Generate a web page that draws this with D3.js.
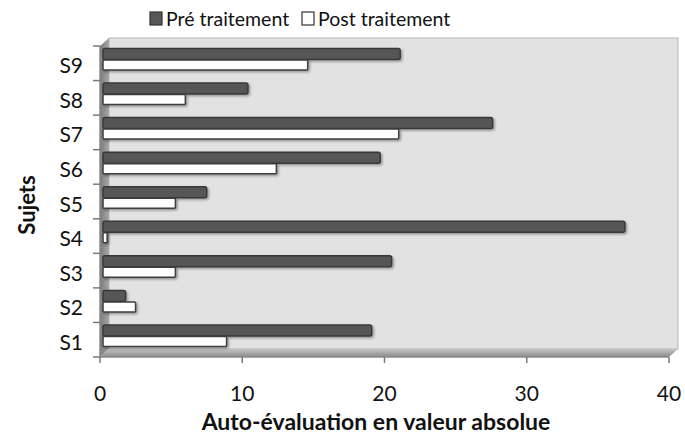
<!DOCTYPE html>
<html>
  <head>
    <meta charset='utf-8'>
    <title></title>
    <script src='https://d3js.org/d3.v7.min.js'></script>
    <style>
      body { margin: 0; background: #fff; }
      svg { display: block; font-family: Lato, 'Open Sans', sans-serif; }
      .tick-label { font-size: 21px; fill: #111; }
      .cat-label { font-size: 21px; fill: #111; }
      .axis-title { font-size: 23px; font-weight: bold; fill: #111; }
      .legend text { font-size: 19.5px; fill: #111; }
    </style>
  </head>
  <body>
  <script type='text/javascript'>

    // data
    var subjects = ['S9', 'S8', 'S7', 'S6', 'S5', 'S4', 'S3', 'S2', 'S1'];
    var pre  = [21.1, 10.4, 27.6, 19.7, 7.5, 36.9, 20.5, 1.8, 19.1];
    var post = [14.6, 6.0, 21.0, 12.4, 5.3, 0.5, 5.3, 2.5, 8.9];
    var xTicks = [0, 10, 20, 30, 40];
    var seriesNames = ['Pré traitement', 'Post traitement'];

    var width = 685, height = 436;
    var depth = {x: 9, y: -8};

    var x = d3.scaleLinear().domain([0, 40]).range([100, 669]);
    var y = d3.scaleBand().domain(subjects).range([46, 357]);

    var svg = d3.select('body').append('svg')
      .attr('width', width)
      .attr('height', height);

    var defs = svg.append('defs');
    var sideGrad = defs.append('linearGradient').attr('id', 'side')
      .attr('x1', 0).attr('x2', 1).attr('y1', 0).attr('y2', 0);
    sideGrad.append('stop').attr('offset', '0%').attr('stop-color', '#7a7a7a');
    sideGrad.append('stop').attr('offset', '100%').attr('stop-color', '#a8a8a8');
    var floorGrad = defs.append('linearGradient').attr('id', 'floor')
      .attr('x1', 0).attr('x2', 0).attr('y1', 0).attr('y2', 1);
    floorGrad.append('stop').attr('offset', '0%').attr('stop-color', '#c4c4c4');
    floorGrad.append('stop').attr('offset', '100%').attr('stop-color', '#8c8c8c');
    var shadow = defs.append('filter').attr('id', 'shadow')
      .attr('x', '-5%').attr('y', '-30%').attr('width', '110%').attr('height', '170%');
    shadow.append('feDropShadow').attr('dx', 1.5).attr('dy', 1.5)
      .attr('stdDeviation', 1).attr('flood-color', '#000').attr('flood-opacity', 0.35);

    var x0 = x(0), x1 = x(40);
    var yTop = y.range()[0], yBot = y.range()[1];

    // back wall
    svg.append('rect')
      .attr('x', x0 + depth.x).attr('y', yTop + depth.y)
      .attr('width', x1 - x0).attr('height', yBot - yTop)
      .attr('fill', '#e2e2e2').attr('stroke', '#b5b5b5');

    // left side wall
    svg.append('polygon')
      .attr('points', [[x0, yTop], [x0 + depth.x, yTop + depth.y],
                       [x0 + depth.x, yBot + depth.y], [x0, yBot]].join(' '))
      .attr('fill', 'url(#side)');

    // floor
    svg.append('polygon')
      .attr('points', [[x0, yBot], [x0 + depth.x, yBot + depth.y],
                       [x1 + depth.x, yBot + depth.y], [x1, yBot]].join(' '))
      .attr('fill', 'url(#floor)');

    svg.append('line')
      .attr('x1', x0).attr('x2', x1).attr('y1', yBot).attr('y2', yBot)
      .attr('stroke', '#8a8a8a').attr('stroke-width', 1.5);
    svg.append('line')
      .attr('x1', x0).attr('x2', x0).attr('y1', yTop).attr('y2', yBot)
      .attr('stroke', '#8a8a8a').attr('stroke-width', 1.5);

    // x ticks
    svg.selectAll('.xtick').data(xTicks).enter().append('line')
      .attr('x1', function(d) { return x(d); }).attr('x2', function(d) { return x(d); })
      .attr('y1', yBot).attr('y2', yBot + 6)
      .attr('stroke', '#7a7a7a').attr('stroke-width', 1.5);
    svg.selectAll('.xlab').data(xTicks).enter().append('text')
      .attr('class', 'tick-label')
      .attr('x', function(d) { return x(d); })
      .attr('y', 401)
      .attr('text-anchor', 'middle')
      .text(function(d) { return d; });

    // y ticks at band boundaries
    var bounds = subjects.map(function(s) { return y(s); }).concat([yBot]);
    svg.selectAll('.ytick').data(bounds).enter().append('line')
      .attr('x1', x0 - 7).attr('x2', x0)
      .attr('y1', function(d) { return d; }).attr('y2', function(d) { return d; })
      .attr('stroke', '#7a7a7a').attr('stroke-width', 1.5);
    svg.selectAll('.ylab').data(subjects).enter().append('text')
      .attr('class', 'cat-label')
      .attr('x', 83)
      .attr('y', function(d) { return y(d) + y.bandwidth() / 2 + 10; })
      .attr('text-anchor', 'end')
      .text(function(d) { return d; });

    // bars
    var barH = 11;
    var g = svg.append('g').attr('filter', 'url(#shadow)');
    g.selectAll('.pre').data(subjects).enter().append('rect')
      .attr('x', x(0) + 3)
      .attr('y', function(d) { return y(d) + 2.5; })
      .attr('width', function(d, i) { return x(pre[i]) - x(0) - 3; })
      .attr('height', barH)
      .attr('rx', 2)
      .attr('fill', '#575757').attr('stroke', '#383838').attr('stroke-width', 1.5);
    g.selectAll('.post').data(subjects).enter().append('rect')
      .attr('x', x(0) + 3)
      .attr('y', function(d) { return y(d) + 2.5 + barH + 0.5; })
      .attr('width', function(d, i) { return Math.max(x(post[i]) - x(0) - 3, 2); })
      .attr('height', barH - 1)
      .attr('rx', 1)
      .attr('fill', '#fff').attr('stroke', '#3c3c3c').attr('stroke-width', 1.5);

    // axis titles
    svg.append('text')
      .attr('class', 'axis-title')
      .attr('x', 376).attr('y', 430)
      .attr('text-anchor', 'middle')
      .text('Auto-évaluation en valeur absolue');
    svg.append('text')
      .attr('class', 'axis-title')
      .attr('transform', 'translate(35,205) rotate(-90)')
      .style('font-size', '22px')
      .attr('text-anchor', 'middle')
      .text('Sujets');

    // legend
    var legend = svg.append('g').attr('class', 'legend');
    var legX = [150, 302];
    var legFill = ['#575757', '#fff'];
    legend.selectAll('rect').data(seriesNames).enter().append('rect')
      .attr('x', function(d, i) { return legX[i]; })
      .attr('y', 12).attr('width', 12).attr('height', 13)
      .attr('fill', function(d, i) { return legFill[i]; })
      .attr('stroke', '#333').attr('stroke-width', 1.2);
    legend.selectAll('text').data(seriesNames).enter().append('text')
      .attr('x', function(d, i) { return legX[i] + 16; })
      .attr('y', 26)
      .text(function(d) { return d; });

  </script>
  </body>
</html>
